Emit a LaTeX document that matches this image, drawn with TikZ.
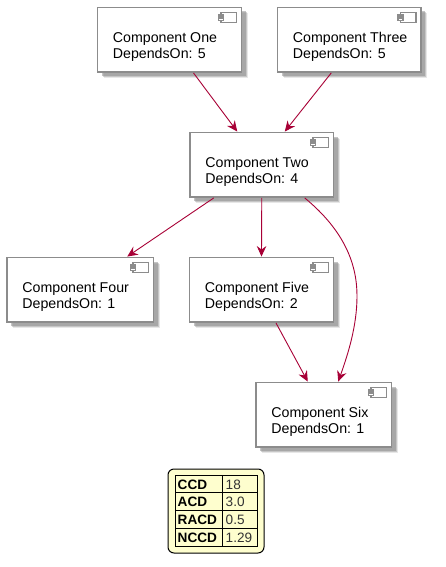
\documentclass[tikz,border=0pt]{standalone}
\usepackage{fontspec}
\setmainfont{Liberation Sans}
\usetikzlibrary{arrows.meta,shadows,calc}
\definecolor{edgered}{HTML}{A80036}
\definecolor{boxgray}{HTML}{8C8C8C}
\definecolor{legendfill}{HTML}{FEFECE}
\definecolor{shadowgray}{HTML}{8A8A8A}
\tikzset{
  x=1pt,y=-1pt,
  compbox/.style={draw=boxgray,fill=white,line width=1.9pt,inner sep=0pt,
    general shadow={shadow xshift=6pt,shadow yshift=-6pt,fill=shadowgray,opacity=.2},
    general shadow={shadow xshift=5pt,shadow yshift=-5pt,fill=shadowgray,opacity=.35},
    general shadow={shadow xshift=4pt,shadow yshift=-4pt,fill=shadowgray,opacity=.5}},
  comptext/.style={anchor=north west,align=left,inner sep=0pt,font=\fontsize{14.2}{16}\selectfont,text=black},
  compicon/.style={draw=boxgray,fill=white,line width=1.1pt},
  dep/.style={draw=edgered,line width=0.9pt,-{Stealth[length=10.5pt,width=9.5pt,inset=3.5pt]}},
  legcell/.style={inner sep=0pt,anchor=base west,font=\fontsize{13.6}{15}\selectfont},
  legkey/.style={legcell,font=\fontsize{13.6}{15}\selectfont\bfseries},
  legval/.style={legcell,text=black!80},
}
% name, left, top, right, bottom, line1, line2
\newcommand{\compnode}[7]{%
  \node[compbox,minimum width=#4pt-#2pt,minimum height=#5pt-#3pt] (#1) at ({(#2+#4)/2},{(#3+#5)/2}) {};
  \node[comptext] (#1text) at ({#2+15.2},{#3+24.5}) {#6\\#7};
  \draw[compicon] ({#4-20.5},{#3+5}) rectangle ({#4-5},{#3+15});
  \draw[compicon] ({#4-23},{#3+7.5}) rectangle ({#4-18},{#3+9.5});
  \draw[compicon] ({#4-23},{#3+11}) rectangle ({#4-18},{#3+13});
}
\begin{document}
\begin{tikzpicture}
\useasboundingbox[fill=white] (0,0) rectangle (445,567);
\compnode{one}{97.5}{7.5}{241.5}{72}{Component One}{DependsOn: 5}
\compnode{three}{277.5}{7.5}{421}{72}{Component Three}{DependsOn: 5}
\compnode{two}{190}{132.5}{333.5}{197}{Component Two}{DependsOn: 4}
\compnode{four}{7}{257.5}{153.5}{322}{Component Four}{DependsOn: 1}
\compnode{five}{189.5}{257.5}{333.5}{322}{Component Five}{DependsOn: 2}
\compnode{six}{256}{382.5}{391.5}{447}{Component Six}{DependsOn: 1}

\draw[dep] ([xshift=24pt]one.south) -- ([xshift=-24.5pt]two.north);
\draw[dep] ([xshift=-18pt]three.south) -- ([xshift=23pt]two.north);
\draw[dep] ([xshift=-48pt]two.south) -- ([xshift=47pt]four.north);
\draw[dep] (two.south) -- (five.north);
\draw[dep] ([xshift=43pt]two.south) .. controls (346,232) and (357,266) .. (357,296) .. controls (357,326) and (348,354) .. ([xshift=14.5pt]six.north);
\draw[dep] ([xshift=14.5pt]five.south) -- ([xshift=-16pt]six.north);

\node[draw=black,fill=legendfill,line width=1pt,rounded corners=6pt,minimum width=96pt,minimum height=84pt,inner sep=0pt] (legend) at (216,511) {};
\node[draw=black,line width=1pt,minimum width=82pt,minimum height=71.5pt,inner sep=0pt] (table) at (216.7,511) {};
\draw[line width=1pt] (table.north west |- 0,492.5) -- (table.north east |- 0,492.5);
\draw[line width=1pt] (table.north west |- 0,510) -- (table.north east |- 0,510);
\draw[line width=1pt] (table.north west |- 0,528) -- (table.north east |- 0,528);
\draw[line width=1pt] (222.5,0 |- table.north) -- (222.5,0 |- table.south);
\node[legkey] (k1) at (177.5,489) {CCD};
\node[legkey] (k2) at (177.5,506.5) {ACD};
\node[legkey] (k3) at (177.5,524) {RACD};
\node[legkey] (k4) at (177.5,542) {NCCD};
\node[legval] (v1) at (225.5,489) {18};
\node[legval] (v2) at (225.5,506.5) {3.0};
\node[legval] (v3) at (225.5,524) {0.5};
\node[legval] (v4) at (225.5,542) {1.29};
\end{tikzpicture}
\end{document}
